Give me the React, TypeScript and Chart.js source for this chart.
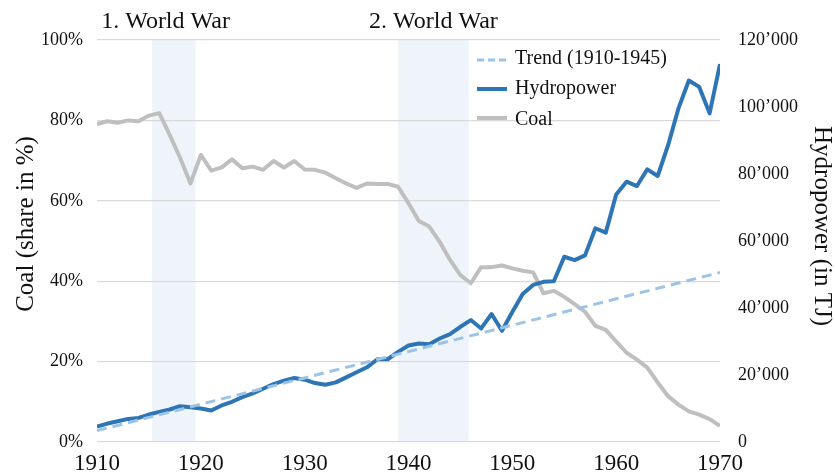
import React, { useEffect, useRef } from "react";
import { Chart, registerables } from "chart.js";

Chart.register(...registerables);

const years = [
  1910, 1911, 1912, 1913, 1914, 1915, 1916, 1917, 1918, 1919,
  1920, 1921, 1922, 1923, 1924, 1925, 1926, 1927, 1928, 1929,
  1930, 1931, 1932, 1933, 1934, 1935, 1936, 1937, 1938, 1939,
  1940, 1941, 1942, 1943, 1944, 1945, 1946, 1947, 1948, 1949,
  1950, 1951, 1952, 1953, 1954, 1955, 1956, 1957, 1958, 1959,
  1960, 1961, 1962, 1963, 1964, 1965, 1966, 1967, 1968, 1969,
  1970,
];

const coalShare = [
  79.1, 79.8, 79.4, 80.0, 79.8, 81.2, 81.8, 76.4, 70.7, 64.3,
  71.4, 67.5, 68.3, 70.3, 68.1, 68.5, 67.7, 69.9, 68.3, 69.9,
  67.8, 67.7, 67.0, 65.6, 64.3, 63.2, 64.3, 64.2, 64.2, 63.5,
  59.4, 55.0, 53.6, 49.8, 45.3, 41.5, 39.5, 43.5, 43.5, 43.9,
  43.2, 42.6, 42.2, 37.0, 37.6, 36.1, 34.3, 32.4, 28.9, 27.9,
  25.0, 22.2, 20.5, 18.5, 14.8, 11.4, 9.3, 7.6, 6.8, 5.7,
  4.0,
];

const hydropower = [
  4600, 5500, 6200, 6900, 7200, 8200, 9000, 9700, 10700, 10400,
  10000, 9400, 10900, 12000, 13400, 14500, 15900, 17300, 18300, 19100,
  18600, 17600, 17100, 17800, 19300, 20800, 22300, 24700, 24700, 26900,
  28800, 29400, 29200, 30900, 32200, 34400, 36400, 33900, 38200, 33200,
  38800, 44200, 46900, 47800, 48000, 55300, 54300, 55700, 63800, 62500,
  73900, 77700, 76400, 81400, 79400, 88600, 99600, 107900, 106000, 98100,
  112800,
];

const trendYears = [1910, 1970];
const trendValues = [3400, 50600];

const warStart = [1915.3, 1939.0];
const warEnd = [1919.5, 1945.8];
const warLabels = ["1. World War", "2. World War"];
const warLabelYears = [1916.6, 1942.4];

const legendLabels = ["Trend (1910-1945)", "Hydropower", "Coal"];
const leftTitle = "Coal (share in %)";
const rightTitle = "Hydropower (in TJ)";

const FONT = "'Liberation Serif', 'Times New Roman', serif";
const BLUE = "#2e75b6";
const LIGHT_BLUE = "#9dc3e6";
const GRAY = "#bfbfbf";
const TEXT = "#111111";

function fmtThousands(v: number): string {
  if (v === 0) return "0";
  return String(Math.round(v)).replace(/\B(?=(\d{3})+(?!\d))/g, "\u2019");
}

export default function App() {
  const ref = useRef<HTMLCanvasElement>(null);

  useEffect(() => {
    const canvas = ref.current;
    if (!canvas) return;

    const bandsPlugin = {
      id: "bands",
      beforeDraw(chart: any) {
        const { ctx, chartArea, scales } = chart;
        const x = scales.x;
        ctx.save();
        ctx.fillStyle = "#eff4fa";
        for (let i = 0; i < warStart.length; i++) {
          const xa = x.getPixelForValue(warStart[i]);
          const xb = x.getPixelForValue(warEnd[i]);
          ctx.fillRect(xa, chartArea.top, xb - xa, chartArea.bottom - chartArea.top);
        }
        ctx.restore();
      },
    };

    const overlayPlugin = {
      id: "overlay",
      afterDraw(chart: any) {
        const { ctx, scales } = chart;
        const x = scales.x;
        ctx.save();
        ctx.fillStyle = TEXT;
        // war labels
        ctx.font = `24px ${FONT}`;
        ctx.textAlign = "center";
        ctx.textBaseline = "alphabetic";
        for (let i = 0; i < warLabels.length; i++) {
          ctx.fillText(warLabels[i], x.getPixelForValue(warLabelYears[i]), 28);
        }
        // axis titles
        ctx.font = `25px ${FONT}`;
        ctx.textBaseline = "middle";
        ctx.save();
        ctx.translate(26, 224);
        ctx.rotate(-Math.PI / 2);
        ctx.fillText(leftTitle, 0, 0);
        ctx.restore();
        ctx.save();
        ctx.translate(822, 226);
        ctx.rotate(Math.PI / 2);
        ctx.fillText(rightTitle, 0, 0);
        ctx.restore();
        // legend
        const lineY = [60, 89, 118];
        const textY = [64, 94, 125];
        const styles = [
          { color: LIGHT_BLUE, width: 3, dash: [7, 4] },
          { color: BLUE, width: 4, dash: [] as number[] },
          { color: GRAY, width: 4, dash: [] as number[] },
        ];
        ctx.font = `20px ${FONT}`;
        ctx.textAlign = "left";
        ctx.textBaseline = "alphabetic";
        for (let i = 0; i < legendLabels.length; i++) {
          const s = styles[i];
          ctx.beginPath();
          ctx.setLineDash(s.dash);
          ctx.strokeStyle = s.color;
          ctx.lineWidth = s.width;
          ctx.moveTo(477, lineY[i]);
          ctx.lineTo(507, lineY[i]);
          ctx.stroke();
          ctx.setLineDash([]);
          ctx.fillStyle = TEXT;
          ctx.fillText(legendLabels[i], 515, textY[i]);
        }
        ctx.restore();
      },
    };

    const chart = new Chart(canvas, {
      type: "line",
      data: {
        datasets: [
          {
            label: legendLabels[0],
            data: trendYears.map((yr, i) => ({ x: yr, y: trendValues[i] })),
            yAxisID: "y1",
            borderColor: LIGHT_BLUE,
            borderWidth: 3,
            borderDash: [10, 6],
            pointRadius: 0,
            fill: false,
            tension: 0,
          },
          {
            label: legendLabels[1],
            data: years.map((yr, i) => ({ x: yr, y: hydropower[i] })),
            yAxisID: "y1",
            borderColor: BLUE,
            borderWidth: 4,
            pointRadius: 0,
            fill: false,
            tension: 0,
          },
          {
            label: legendLabels[2],
            data: years.map((yr, i) => ({ x: yr, y: coalShare[i] })),
            yAxisID: "y",
            borderColor: GRAY,
            borderWidth: 4,
            pointRadius: 0,
            fill: false,
            tension: 0,
          },
        ],
      },
      options: {
        animation: false,
        responsive: false,
        devicePixelRatio: 1,
        layout: { padding: { top: 40, left: 0, right: 0, bottom: 0 } },
        plugins: {
          legend: { display: false },
          tooltip: { enabled: false },
        },
        elements: { line: { borderCapStyle: "butt", borderJoinStyle: "round" } },
        scales: {
          x: {
            type: "linear",
            min: 1910,
            max: 1970,
            grid: { display: false, drawTicks: false },
            border: { display: false },
            ticks: {
              stepSize: 10,
              padding: 8,
              color: TEXT,
              font: { family: FONT, size: 23 },
              maxRotation: 0,
              callback: (v: any) => String(v),
            },
            afterFit: (s: any) => {
              s.height = 31;
            },
          },
          y: {
            position: "left",
            min: 0,
            max: 100,
            grid: { color: "#d9d9d9", lineWidth: 1.2, drawTicks: false },
            border: { display: false },
            ticks: {
              stepSize: 20,
              padding: 14,
              color: TEXT,
              font: { family: FONT, size: 18 },
              callback: (v: any) => `${v}%`,
            },
            afterFit: (s: any) => {
              s.width = 97;
            },
          },
          y1: {
            position: "right",
            min: 0,
            max: 120000,
            grid: { display: false, drawTicks: false },
            border: { display: false },
            ticks: {
              stepSize: 20000,
              padding: 18,
              color: TEXT,
              font: { family: FONT, size: 18 },
              callback: (v: any) => fmtThousands(Number(v)),
            },
            afterFit: (s: any) => {
              s.width = 115;
            },
          },
        },
      },
      plugins: [bandsPlugin, overlayPlugin],
    } as any);

    return () => {
      chart.destroy();
    };
  }, []);

  return (
    <div
      style={{
        position: "absolute",
        left: 0,
        top: 0,
        width: 835,
        height: 473,
        background: "#ffffff",
      }}
    >
      <canvas
        ref={ref}
        width={835}
        height={473}
        style={{ display: "block", width: 835, height: 473 }}
      />
    </div>
  );
}
